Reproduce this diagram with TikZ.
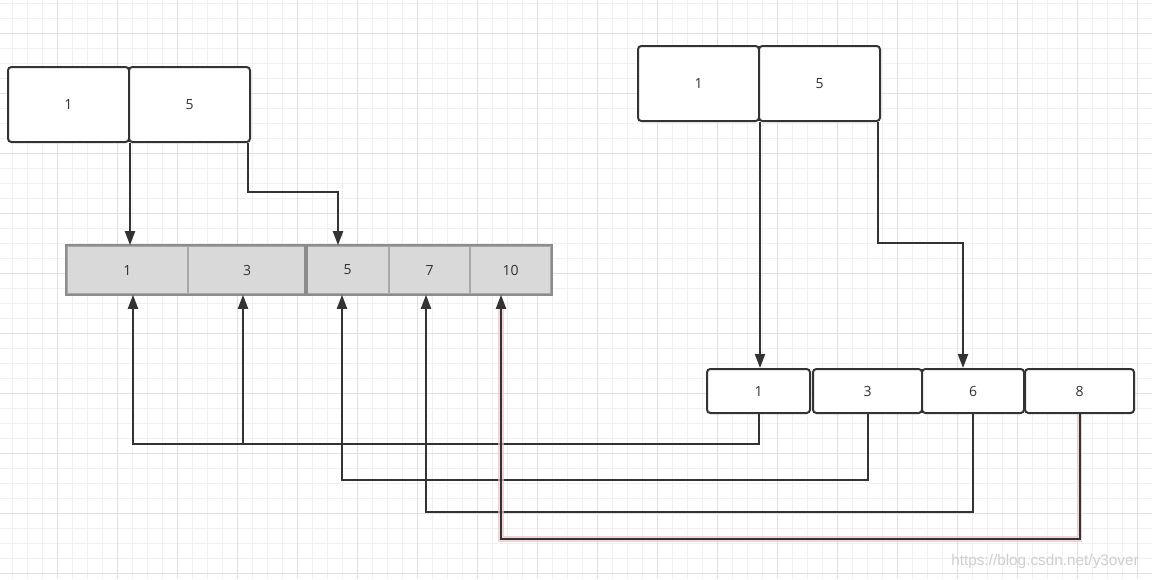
\documentclass[tikz,border=0pt]{standalone}
\usepackage{fontspec}
\setmainfont{Open Sans}
\newfontfamily\wmfont{Liberation Sans}
\usetikzlibrary{arrows.meta,calc}
\definecolor{ink}{HTML}{333333}
\definecolor{gridminor}{HTML}{F0F0F0}
\definecolor{gridmajor}{HTML}{E0E0E0}
\definecolor{cellfill}{HTML}{D9D9D9}
\definecolor{celldiv}{HTML}{A8A8A8}
\definecolor{cellout}{HTML}{8C8C8C}
\definecolor{glow}{HTML}{E9C4C4}
\definecolor{wm}{HTML}{CFCFCF}
\tikzset{
  wbox/.style={draw=ink, line width=1.5pt, rounded corners=2.5pt, fill=white,
    inner sep=0pt, text=ink, font=\fontsize{10.5pt}{11pt}\selectfont},
  cell/.style={draw=celldiv, line width=1.2pt, fill=cellfill, inner sep=0pt,
    minimum height=36pt, text=ink, font=\fontsize{10.5pt}{11pt}\selectfont},
  conn/.style={draw=ink, line width=1.5pt, -{Triangle[length=10.5pt,width=7.5pt]}},
  glowline/.style={draw=glow, line width=4pt, opacity=0.7}
}
\begin{document}
\begin{tikzpicture}[x=0.75pt,y=-0.75pt]
\useasboundingbox (0,0) rectangle (1152,579);
\fill[white] (0,0) rectangle (1152,579);
% grid
\foreach \x in {12.3,27.3,...,1152} {\draw[gridminor, line width=0.75pt] (\x,0) -- (\x,579);}
\foreach \y in {3.3,18.3,...,579} {\draw[gridminor, line width=0.75pt] (0,\y) -- (1152,\y);}
\foreach \x in {57.3,117.3,...,1152} {\draw[gridmajor, line width=0.75pt] (\x,0) -- (\x,579);}
\foreach \y in {33.3,93.3,...,579} {\draw[gridmajor, line width=0.75pt] (0,\y) -- (1152,\y);}

% top-left pair
\node[wbox, minimum width=90.75pt, minimum height=56.25pt] (tl1) at (68.5,104.5) {1};
\node[wbox, minimum width=90.75pt, minimum height=56.25pt] (tl2) at (189.5,104.5) {5};
% top-right pair
\node[wbox, minimum width=90.75pt, minimum height=56.25pt] (tr1) at (698.5,83.5) {1};
\node[wbox, minimum width=90.75pt, minimum height=56.25pt] (tr2) at (819.5,83.5) {5};

% gray array
\node[cell, minimum width=90.75pt] (c1) at (127.5,270) {1};
\node[cell, minimum width=88.5pt] (c3) at (247,270) {3};
\node[cell, minimum width=62.25pt] (c5) at (347.5,270) {5};
\node[cell, minimum width=60.75pt] (c7) at (429.5,270) {7};
\node[cell, minimum width=60.75pt] (c10) at (510.5,270) {10};
\draw[cellout, line width=1.4pt] (c1.north west) rectangle (c3.south east);
\draw[cellout, line width=1.4pt] (c5.north west) rectangle (c10.south east);

% bottom-right row
\node[wbox, minimum width=77.25pt, minimum height=33pt] (b1) at (758.5,391) {1};
\node[wbox, minimum width=81.75pt, minimum height=33pt] (b3) at (867.5,391) {3};
\node[wbox, minimum width=76.5pt, minimum height=33pt] (b6) at (973,391) {6};
\node[wbox, minimum width=81.75pt, minimum height=33pt] (b8) at (1079.5,391) {8};

% top connectors
\draw[conn] (tl1.south east) -- (tl1.south east |- c1.north);
\draw[conn] ($(tl2.south east)+(-3,0)$) |- ($(c5.north)+(-9.5,-53)$) -- ($(c5.north)+(-9.5,0)$);
\draw[conn] (tr1.south east) -- (tr1.south east |- b1.north);
\draw[conn] ($(tr2.south east)+(-3,0)$) |- ($(b6.north)+(-10,-125)$) -- ($(b6.north)+(-10,0)$);

% bottom connectors
\draw[conn] (b1.south) -- ++(0,30) -| ($(c1.south)+(5.5,0)$);
\draw[conn] (b1.south) -- ++(0,30) -| ($(c3.south)+(-4,0)$);
\draw[conn] (b3.south) -- ++(0,66) -| ($(c5.south)+(-5.5,0)$);
\draw[conn] (b6.south) -- ++(0,98) -| ($(c7.south)+(-3.5,0)$);
\draw[glowline] (b8.south) -- ++(0,125) -| ($(c10.south)+(-9.5,14)$);
\draw[conn] (b8.south) -- ++(0,125) -| ($(c10.south)+(-9.5,0)$);

% watermark
\node[text=wm, font=\wmfont\fontsize{11.5pt}{12pt}\selectfont, anchor=center, inner sep=0pt] (wmark) at (1045,562) {https://blog.csdn.net/y3over};
\end{tikzpicture}
\end{document}
